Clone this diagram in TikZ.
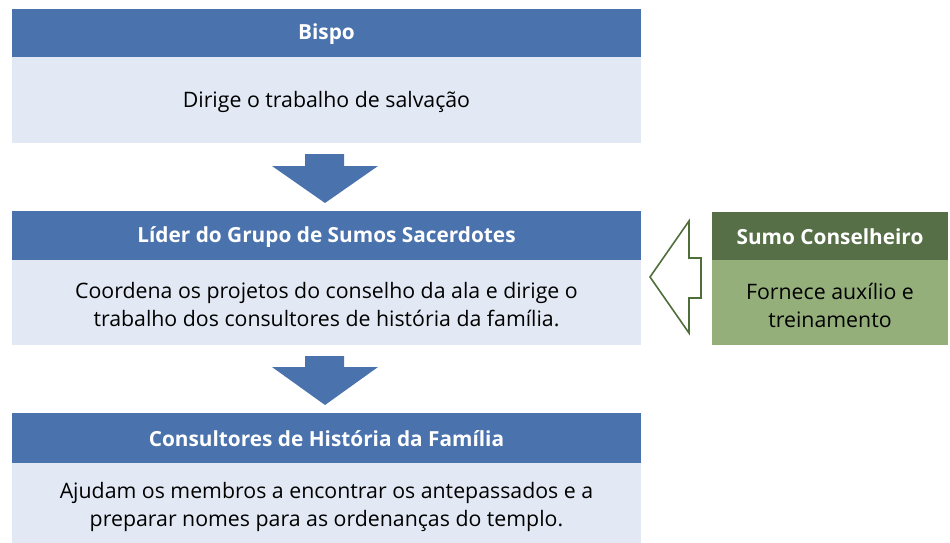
\documentclass[tikz,border=0pt]{standalone}
\usepackage{fontspec}
\setmainfont{Open Sans}
\definecolor{hdrblue}{HTML}{4A72AD}
\definecolor{bodyblue}{HTML}{E2E9F4}
\definecolor{hdrgreen}{HTML}{566F47}
\definecolor{bodygreen}{HTML}{95AF7A}
\definecolor{lineGreen}{HTML}{4F6E3A}
\tikzset{
  x=1pt,y=-1pt,
  hdr/.style={font=\fontsize{20.8}{25}\selectfont\bfseries, text=white},
  bodytxt/.style={font=\fontsize{21.3}{28}\selectfont, text=black, align=center},
  downarrow/.style={fill=hdrblue, draw=none},
}
\begin{document}
\begin{tikzpicture}
\useasboundingbox (0,0) rectangle (950,543);
% box 1
\fill[hdrblue] (12,9) rectangle (641,57);
\fill[bodyblue] (12,57) rectangle (641,143);
\node[hdr] (b1h) at (326.5,34) {Bispo};
\node[bodytxt] (b1b) at (326.5,102) {Dirige o trabalho de salvação};
% arrow 1
\fill[downarrow] (305,154) -- (344,154) -- (344,166) -- (378,166) -- (325,203) -- (272,166) -- (305,166) -- cycle;
% box 2
\fill[hdrblue] (12,211) rectangle (641,260);
\fill[bodyblue] (12,260) rectangle (641,345);
\node[hdr] (b2h) at (326.5,237) {Líder do Grupo de Sumos Sacerdotes};
\node[bodytxt] (b2b) at (326.5,305) {Coordena os projetos do conselho da ala e dirige o\\trabalho dos consultores de história da família.};
% arrow 2
\fill[downarrow] (305,356) -- (344,356) -- (344,367) -- (378,367) -- (325,405) -- (272,367) -- (305,367) -- cycle;
% box 3
\fill[hdrblue] (12,413) rectangle (641,463);
\fill[bodyblue] (12,463) rectangle (641,543);
\node[hdr] (b3h) at (326.5,439) {Consultores de História da Família};
\node[bodytxt] (b3b) at (326.5,507) {Ajudam os membros a encontrar os antepassados e a\\preparar nomes para as ordenanças do templo.};
% green box
\fill[hdrgreen] (712,212) rectangle (948,260);
\fill[bodygreen] (712,260) rectangle (948,345);
\node[hdr] (gh) at (830,237) {Sumo Conselheiro};
\node[bodytxt] (gb) at (830,305) {Fornece auxílio e\\treinamento};
% hollow arrow
\draw[lineGreen, line width=1.6pt, fill=white, line join=miter] (650,277) -- (689,221) -- (689,258) -- (701,258) -- (701,298) -- (689,298) -- (689,333) -- cycle;
\end{tikzpicture}
\end{document}
